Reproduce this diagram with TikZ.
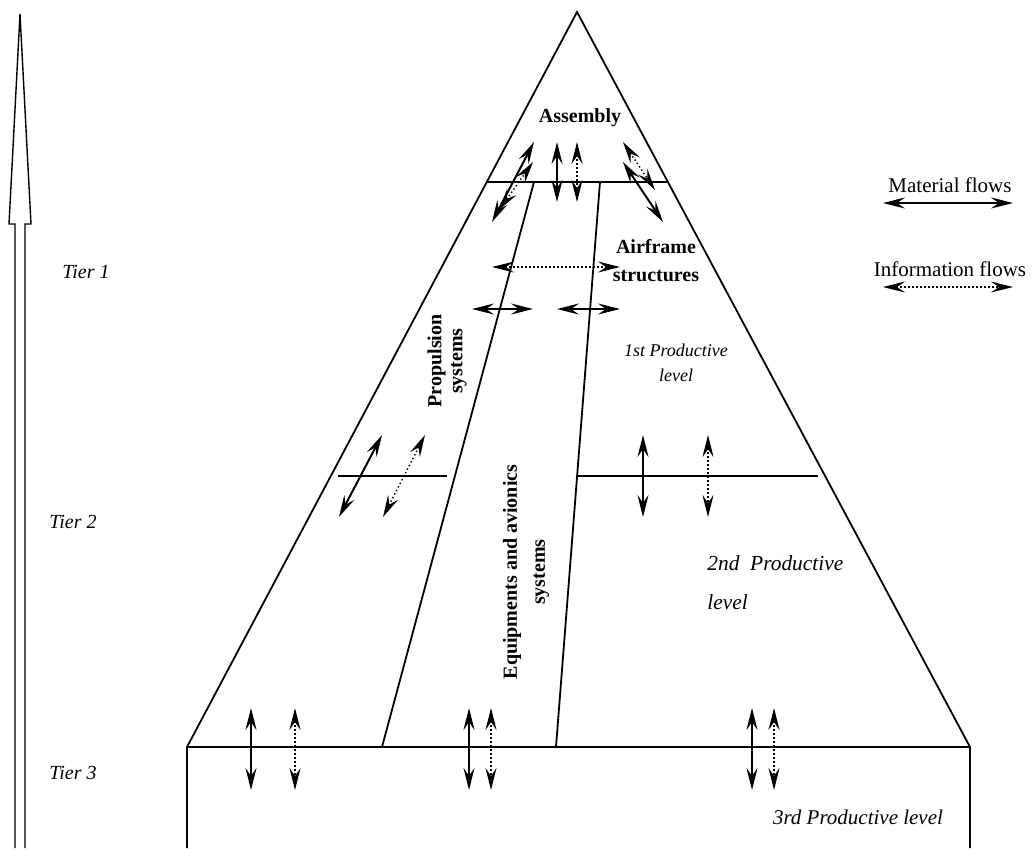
\documentclass[tikz,border=0pt]{standalone}
\usepackage{fontspec}
\setmainfont{Liberation Serif}
\usetikzlibrary{arrows.meta}
\newcommand{\flowwidth}{1pt}
\newcommand{\tipsize}{length=11pt,width=5.5pt,inset=4pt}

\begin{document}
\begin{tikzpicture}[x=0.5pt,y=-0.5pt,
    wall/.style={line width=0.9pt},
    matflow/.style={line width=\flowwidth,{Stealth[\tipsize]}-{Stealth[\tipsize]}},
    infoflow/.style={matflow,line width=0.7pt,dash pattern=on 0.7pt off 1.3pt},
    boldlabel/.style={font=\fontsize{10}{14}\selectfont\bfseries,inner sep=0pt,align=center},
    itlabel/.style={font=\fontsize{10}{14}\selectfont\itshape,inner sep=0pt}]
    \useasboundingbox (0,0) rectangle (1034,848);

    %Tier arrow:
    \draw[line width=0.7pt] (15,848) -- (15,224) -- (9,224) -- (20,14) -- (31,224) -- (25,224) -- (25,848);

    %Pyramid:
    \coordinate (apex) at (577,12);
    \coordinate (bl) at (187,747);
    \coordinate (br) at (970,747);
    \coordinate (bl low) at (187,848);
    \coordinate (br low) at (970,848);
    \draw[wall] (bl low) -- (bl) -- (apex) -- (br) -- (br low) (bl) -- (br);

    \coordinate (asm l) at (487,182);
    \coordinate (asm r) at (668,182);
    \coordinate (prop top) at (534,182);
    \coordinate (prop bot) at (382,747);
    \coordinate (equip top) at (600,182);
    \coordinate (equip bot) at (556,747);
    \coordinate (t2a l) at (338,476);
    \coordinate (t2a r) at (447,476);
    \coordinate (t2b l) at (578,476);
    \coordinate (t2b r) at (818,476);
    \draw[wall] (asm l) -- (asm r) (prop top) -- (prop bot) (equip top) -- (equip bot);
    \draw[wall] (t2a l) -- (t2a r) (t2b l) -- (t2b r);

    %Labels:
    \node[itlabel] (tier1) at (86,272) {Tier 1};
    \node[itlabel] (tier2) at (73,522) {Tier 2};
    \node[itlabel] (tier3) at (73,773) {Tier 3};
    \node[boldlabel] (assembly) at (580,118) {Assembly};
    \node[boldlabel] (airframe) at (656,261) {Airframe\\structures};
    \node[boldlabel,rotate=90,font=\fontsize{10}{10.5}\selectfont\bfseries] (propulsion) at (447,361) {Propulsion\\systems};
    \node[boldlabel,rotate=90] (equipments) at (526,572) {Equipments and avionics\\systems};
    \node[itlabel,align=center,font=\fontsize{9}{12.5}\selectfont\itshape] (level1) at (676,363) {1st Productive\\level};
    \node[itlabel,align=left,anchor=west,font=\fontsize{10.7}{19.5}\selectfont\itshape] (level2) at (707,583) {2nd\ \ Productive\\level};
    \node[itlabel,font=\fontsize{10.5}{14}\selectfont\itshape] (level3) at (858,817) {3rd Productive level};

    %Legend:
    \node[inner sep=0pt,font=\fontsize{10.5}{14}\selectfont] (matlegend) at (950,185) {Material flows};
    \node[inner sep=0pt,font=\fontsize{10.5}{14}\selectfont] (infolegend) at (950,269) {Information flows};
    \coordinate (ml a) at (883,203);
    \coordinate (ml b) at (1013,203);
    \coordinate (il a) at (883,287);
    \coordinate (il b) at (1013,287);
    \draw[matflow] (ml a) -- (ml b);
    \draw[infoflow] (il a) -- (il b);

    %Flows at the assembly:
    \coordinate (f1 a) at (492,222);
    \coordinate (f1 b) at (534,142);
    \coordinate (f2 a) at (499,210);
    \coordinate (f2 b) at (533,162);
    \coordinate (f3 a) at (557,142);
    \coordinate (f3 b) at (557,202);
    \coordinate (f4 a) at (577,142);
    \coordinate (f4 b) at (577,202);
    \coordinate (f5 a) at (623,142);
    \coordinate (f5 b) at (655,190);
    \coordinate (f6 a) at (623,162);
    \coordinate (f6 b) at (663,222);
    \draw[matflow] (f1 a) -- (f1 b);
    \draw[infoflow] (f2 a) -- (f2 b);
    \draw[matflow] (f3 a) -- (f3 b);
    \draw[infoflow] (f4 a) -- (f4 b);
    \draw[infoflow] (f5 a) -- (f5 b);
    \draw[matflow] (f6 a) -- (f6 b);

    %Flows between the branches:
    \coordinate (h1 a) at (492,267);
    \coordinate (h1 b) at (620,267);
    \coordinate (h2 a) at (472,309);
    \coordinate (h2 b) at (533,309);
    \coordinate (h3 a) at (557,309);
    \coordinate (h3 b) at (620,309);
    \draw[infoflow] (h1 a) -- (h1 b);
    \draw[matflow] (h2 a) -- (h2 b);
    \draw[matflow] (h3 a) -- (h3 b);

    %Flows at tier 2:
    \coordinate (t1 a) at (339,517);
    \coordinate (t1 b) at (382,435);
    \coordinate (t2 a) at (383,517);
    \coordinate (t2 b) at (425,435);
    \coordinate (t3 a) at (643,435);
    \coordinate (t3 b) at (643,517);
    \coordinate (t4 a) at (708,435);
    \coordinate (t4 b) at (708,517);
    \draw[matflow] (t1 a) -- (t1 b);
    \draw[infoflow] (t2 a) -- (t2 b);
    \draw[matflow] (t3 a) -- (t3 b);
    \draw[infoflow] (t4 a) -- (t4 b);

    %Flows at tier 3:
    \foreach \m/\i [count=\k] in {251/295,469/491,752/774} {
        \coordinate (b\k m a) at (\m,708);
        \coordinate (b\k m b) at (\m,790);
        \coordinate (b\k i a) at (\i,708);
        \coordinate (b\k i b) at (\i,790);
        \draw[matflow] (b\k m a) -- (b\k m b);
        \draw[infoflow] (b\k i a) -- (b\k i b);
    }
\end{tikzpicture}
\end{document}
